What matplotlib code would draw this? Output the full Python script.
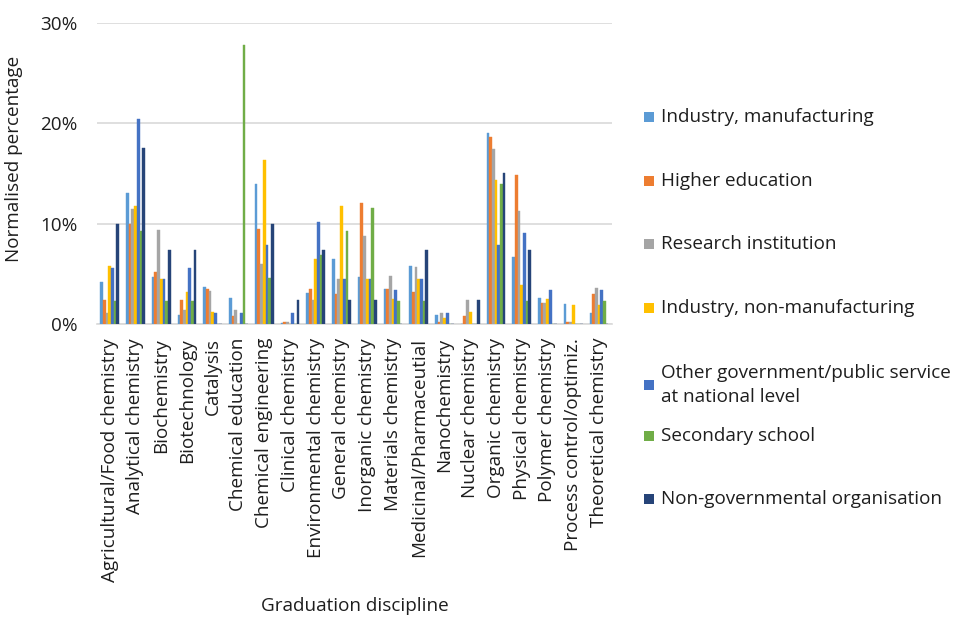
import matplotlib
matplotlib.use("Agg")
import matplotlib.pyplot as plt
import numpy as np
from matplotlib.patches import Rectangle

categories = ["Agricultural/Food chemistry", "Analytical chemistry", "Biochemistry",
              "Biotechnology", "Catalysis", "Chemical education", "Chemical engineering",
              "Clinical chemistry", "Environmental chemistry", "General chemistry",
              "Inorganic chemistry", "Materials chemistry", "Medicinal/Pharmaceutial",
              "Nanochemistry", "Nuclear chemistry", "Organic chemistry", "Physical chemistry",
              "Polymer chemistry", "Process control/optimiz.", "Theoretical chemistry"]

series_names = ["Industry, manufacturing", "Higher education", "Research institution",
                "Industry, non-manufacturing",
                "Other government/public service\nat national level",
                "Secondary school", "Non-governmental organisation"]

industry_manufacturing = [4.2, 13.0, 4.7, 0.9, 3.7, 2.6, 13.9, 0.1, 3.1, 6.5,
                          4.7, 3.5, 5.8, 0.9, 0.0, 19.0, 6.7, 2.6, 2.0, 1.1]
higher_education = [2.4, 10.0, 5.2, 2.4, 3.5, 0.8, 9.5, 0.2, 3.5, 3.0,
                    12.0, 3.5, 3.2, 0.2, 0.8, 18.6, 14.8, 2.1, 0.2, 3.0]
research_institution = [1.1, 11.5, 9.4, 1.4, 3.3, 1.4, 6.0, 0.2, 2.4, 4.5,
                        8.8, 4.8, 5.7, 1.1, 2.4, 17.4, 11.3, 2.1, 0.2, 3.6]
industry_non_manufacturing = [5.8, 11.7, 4.5, 3.2, 1.2, 0.0, 16.3, 0.0, 6.5, 11.7,
                              4.5, 2.5, 4.5, 0.6, 1.2, 14.3, 3.9, 2.5, 1.9, 1.9]
other_government = [5.6, 20.4, 4.5, 5.6, 1.1, 1.1, 7.9, 1.1, 10.2, 4.5,
                    4.5, 3.4, 4.5, 1.1, 0.0, 7.9, 9.1, 3.4, 0.0, 3.4]
secondary_school = [2.3, 9.3, 2.3, 2.3, 0.0, 27.8, 4.6, 0.0, 6.9, 9.3,
                    11.6, 2.3, 2.3, 0.0, 0.0, 13.9, 2.3, 0.0, 0.0, 2.3]
ngo = [10.0, 17.5, 7.4, 7.4, 0.0, 0.0, 10.0, 2.4, 7.4, 2.4,
       2.4, 0.0, 7.4, 0.0, 2.4, 15.0, 7.4, 0.0, 0.0, 0.0]

all_series = [industry_manufacturing, higher_education, research_institution,
              industry_non_manufacturing, other_government, secondary_school, ngo]
colors = ["#5B9BD5", "#ED7D31", "#A5A5A5", "#FFC000", "#4472C4", "#70AD47", "#264478"]

FONT = ["Open Sans", "DejaVu Sans"]
plt.rcParams["font.family"] = FONT
TXT = "#1E1E1E"
FS = 13.6

fig = plt.figure(figsize=(9.59, 6.17), dpi=100)
ax = fig.add_axes([0.101, 0.475, 0.537, 0.488])

x = np.arange(len(categories))
n = len(all_series)
w = 0.105
for i, (vals, c, name) in enumerate(zip(all_series, colors, series_names)):
    ax.bar(x + (i - (n - 1) / 2) * w, vals, width=w, color=c, label=name,
           edgecolor=c, linewidth=0.3, zorder=3)

ax.set_xlim(-0.5, len(categories) - 0.5)
ax.set_ylim(0, 30)
ax.set_yticks([0, 10, 20, 30])
ax.set_yticklabels(["0%", "10%", "20%", "30%"], fontsize=FS, color=TXT)
ax.set_xticks(x)
ax.set_xticklabels(categories, rotation=90, fontsize=FS, color=TXT)
ax.tick_params(axis="x", length=0, pad=10)
ax.tick_params(axis="y", length=0, pad=14)
ax.grid(axis="y", color="#D9D9D9", linewidth=1.2, zorder=0)
for s in ["top", "right", "left"]:
    ax.spines[s].set_visible(False)
ax.spines["bottom"].set_color("#D9D9D9")
ax.spines["bottom"].set_linewidth(1.2)

ax.set_ylabel("Normalised percentage", fontsize=FS, color=TXT)
ax.yaxis.set_label_coords(-0.144, 0.548)
fig.text(355 / 959, 1 - 606 / 617, "Graduation discipline", fontsize=FS, color=TXT,
         ha="center", va="center")

# legend (manual layout as in reference)
leg_y = [117, 181, 244, 308, 385, 436, 499]
H = 617.0
W = 959.0
for name, c, yy in zip(series_names, colors, leg_y):
    fig.patches.append(Rectangle((644 / W, 1 - (yy + 5) / H), 10 / W, 10 / H,
                                 transform=fig.transFigure, facecolor=c,
                                 edgecolor="none"))
    fig.text(661 / W, 1 - yy / H, name, fontsize=FS, color=TXT,
             ha="left", va="center", linespacing=1.45)

fig.savefig("out.png", dpi=100, facecolor="white")
